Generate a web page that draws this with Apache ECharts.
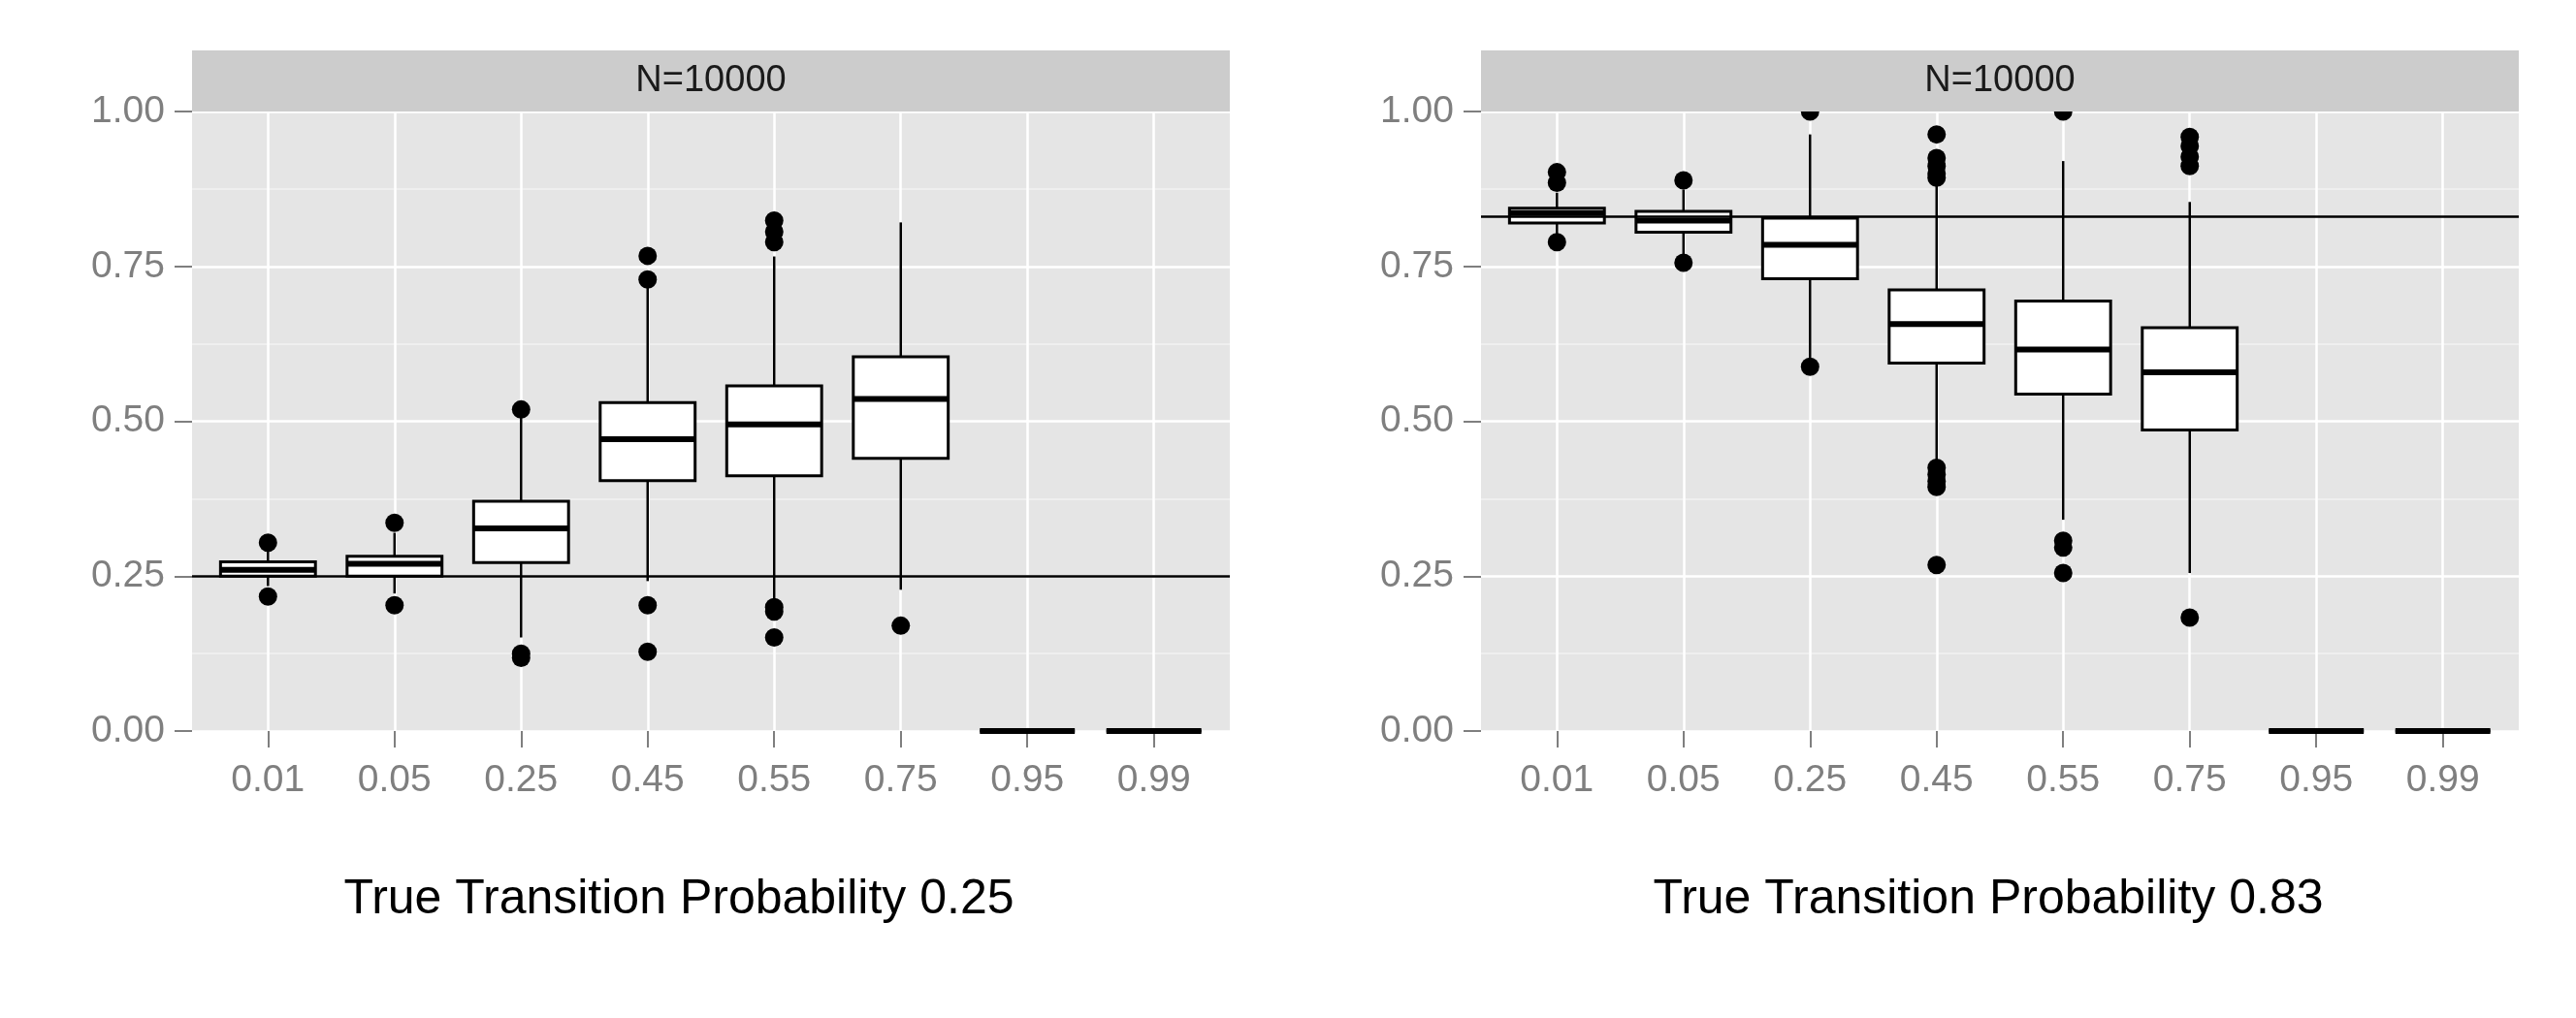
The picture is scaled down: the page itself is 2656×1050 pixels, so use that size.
<!DOCTYPE html>
<html>
<head>
<meta charset="utf-8">
<script src="https://cdn.jsdelivr.net/npm/echarts@6/dist/echarts.min.js"></script>
<style>
  html, body { margin: 0; padding: 0; background: #fff; }
  #chart { width: 2656px; height: 1050px; }
</style>
</head>
<body>
<div id="chart"></div>
<script>
// data
var categories = ['0.01', '0.05', '0.25', '0.45', '0.55', '0.75', '0.95', '0.99'];
var yTicks = [0, 0.25, 0.5, 0.75, 1];
var trueProb = [0.25, 0.83];
var stripLabel = 'N=10000';

// panel 1 (true p = 0.25)
var leftLow    = [0.234, 0.222, 0.151, 0.242, 0.208, 0.228, 0, 0];
var leftQ1     = [0.250, 0.250, 0.272, 0.404, 0.412, 0.440, 0, 0];
var leftMedian = [0.260, 0.270, 0.327, 0.471, 0.495, 0.536, 0, 0];
var leftQ3     = [0.273, 0.282, 0.371, 0.530, 0.557, 0.604, 0, 0];
var leftHigh   = [0.292, 0.320, 0.508, 0.716, 0.766, 0.821, 0, 0];
var leftOutliers = [
    [0, 0.304], [0, 0.217],
    [1, 0.336], [1, 0.203],
    [2, 0.519], [2, 0.125], [2, 0.118],
    [3, 0.767], [3, 0.729], [3, 0.203], [3, 0.128],
    [4, 0.824], [4, 0.806], [4, 0.789], [4, 0.200], [4, 0.193], [4, 0.151],
    [5, 0.170]
];

// panel 2 (true p = 0.83)
var rightLow    = [0.800, 0.768, 0.600, 0.433, 0.341, 0.255, 0, 0];
var rightQ1     = [0.820, 0.805, 0.730, 0.594, 0.544, 0.486, 0, 0];
var rightMedian = [0.836, 0.824, 0.785, 0.657, 0.616, 0.579, 0, 0];
var rightQ3     = [0.844, 0.839, 0.828, 0.712, 0.694, 0.651, 0, 0];
var rightHigh   = [0.869, 0.874, 0.963, 0.882, 0.920, 0.854, 0, 0];
var rightOutliers = [
    [0, 0.902], [0, 0.885], [0, 0.789],
    [1, 0.889], [1, 0.756],
    [2, 1.0], [2, 0.588],
    [3, 0.963], [3, 0.925], [3, 0.912], [3, 0.900], [3, 0.893],
    [3, 0.425], [3, 0.414], [3, 0.403], [3, 0.394], [3, 0.268],
    [4, 1.0], [4, 0.307], [4, 0.296], [4, 0.255],
    [5, 0.959], [5, 0.944], [5, 0.927], [5, 0.912], [5, 0.183]
];

var titles = ['True Transition Probability 0.25', 'True Transition Probability 0.83'];

// layout
var panelLeft = [198, 1527];
var panelTop = 115;
var panelW = 1070;
var panelH = 639;
var stripTop = 52;
var unit = panelW / 8.2;   // ggplot discrete expansion 0.6 each side
var titleX = [700, 2050];
var titleY = 928;

var FONT = '"Liberation Sans", Arial, sans-serif';
var labelGrey = '#7f7f7f';

function boxRows(lo, q1, med, q3, hi) {
    return categories.map(function (c, i) {
        return [i, lo[i], q1[i], med[i], q3[i], hi[i]];
    });
}

function renderBox(params, api) {
    var i = api.value(0);
    var w = api.size([0.75, 0])[0];
    var pLow = api.coord([i, api.value(1)]);
    var pQ1 = api.coord([i, api.value(2)]);
    var pMed = api.coord([i, api.value(3)]);
    var pQ3 = api.coord([i, api.value(4)]);
    var pHigh = api.coord([i, api.value(5)]);
    var x = pQ1[0];
    var line = { stroke: '#000', lineWidth: 2.5 };
    return {
        type: 'group',
        children: [
            { type: 'line', shape: { x1: x, y1: pQ3[1], x2: x, y2: pHigh[1] }, style: line },
            { type: 'line', shape: { x1: x, y1: pQ1[1], x2: x, y2: pLow[1] }, style: line },
            { type: 'rect', shape: { x: x - w / 2, y: pQ3[1], width: w, height: pQ1[1] - pQ3[1] },
              style: { fill: '#fff', stroke: '#000', lineWidth: 3 } },
            { type: 'line', shape: { x1: x - w / 2, y1: pMed[1], x2: x + w / 2, y2: pMed[1] },
              style: { stroke: '#000', lineWidth: 6 } }
        ]
    };
}

var boxData = [
    boxRows(leftLow, leftQ1, leftMedian, leftQ3, leftHigh),
    boxRows(rightLow, rightQ1, rightMedian, rightQ3, rightHigh)
];
var outlierData = [leftOutliers, rightOutliers];

var grids = [], xAxes = [], yAxes = [], series = [], graphics = [];

[0, 1].forEach(function (p) {
    var outer = p * 2, inner = p * 2 + 1;
    // outer grid: background, y axis, marks
    grids.push({
        left: panelLeft[p], top: panelTop, width: panelW, height: panelH,
        show: true, backgroundColor: '#e5e5e5', borderWidth: 0
    });
    // inner grid: category axis with ggplot spacing
    grids.push({
        left: panelLeft[p] + unit * 0.1, top: panelTop, width: unit * 8, height: panelH,
        show: false
    });
    xAxes.push({
        gridIndex: outer, type: 'value', min: -0.6, max: 7.6, show: false,
        axisLine: { onZero: false },
        splitLine: { show: false }
    });
    xAxes.push({
        gridIndex: inner, type: 'category', data: categories, boundaryGap: true,
        axisLine: { show: false, onZero: false },
        axisTick: { show: true, alignWithLabel: true, length: 17, lineStyle: { color: labelGrey, width: 2 } },
        axisLabel: { color: labelGrey, fontSize: 39, fontFamily: FONT, margin: 32 },
        splitLine: { show: true, alignWithLabel: true, lineStyle: { color: '#fff', width: 2.5 } }
    });
    yAxes.push({
        gridIndex: outer, type: 'value', min: 0, max: 1, interval: 0.25,
        axisLine: { show: false, onZero: false },
        axisTick: { show: true, length: 18, lineStyle: { color: labelGrey, width: 2 } },
        axisLabel: {
            color: labelGrey, fontSize: 39, fontFamily: FONT, margin: 28,
            formatter: function (v) { return v.toFixed(2); }
        },
        splitLine: { show: true, lineStyle: { color: '#fff', width: 2.5 } },
        minorTick: { show: false, splitNumber: 2 },
        minorSplitLine: { show: true, lineStyle: { color: '#f2f2f2', width: 1.5 } }
    });
    yAxes.push({
        gridIndex: inner, type: 'value', min: 0, max: 1, show: false,
        axisLine: { onZero: false },
        splitLine: { show: false }
    });

    series.push({
        type: 'custom',
        xAxisIndex: outer, yAxisIndex: outer,
        renderItem: renderBox,
        encode: { x: 0, y: [1, 2, 3, 4, 5] },
        data: boxData[p],
        z: 3,
        silent: true
    });
    series.push({
        type: 'scatter',
        xAxisIndex: outer, yAxisIndex: outer,
        data: outlierData[p],
        symbol: 'circle',
        symbolSize: 19,
        itemStyle: { color: '#000', opacity: 1 },
        clip: true,
        z: 4,
        silent: true,
        markLine: {
            silent: true,
            symbol: 'none',
            label: { show: false },
            lineStyle: { color: '#000', width: 2.5, type: 'solid', opacity: 1 },
            data: [{ yAxis: trueProb[p] }]
        }
    });

    // facet strip
    graphics.push({
        type: 'rect', z: 100,
        shape: { x: panelLeft[p], y: stripTop, width: panelW, height: panelTop - stripTop },
        style: { fill: '#cccccc' }
    });
    graphics.push({
        type: 'text', z: 101,
        x: panelLeft[p] + panelW / 2, y: (stripTop + panelTop) / 2,
        style: {
            text: stripLabel, fill: '#1a1a1a', font: '38px ' + FONT,
            textAlign: 'center', textVerticalAlign: 'middle'
        }
    });
    // caption below each panel
    graphics.push({
        type: 'text', z: 101,
        x: titleX[p], y: titleY,
        style: {
            text: titles[p], fill: '#000', font: '50px ' + FONT,
            textAlign: 'center', textVerticalAlign: 'middle'
        }
    });
});

var mychart = echarts.init(document.getElementById('chart'));
var option = {
    backgroundColor: '#fff',
    animation: false,
    grid: grids,
    xAxis: xAxes,
    yAxis: yAxes,
    series: series,
    graphic: graphics
};
mychart.setOption(option);
</script>
</body>
</html>
